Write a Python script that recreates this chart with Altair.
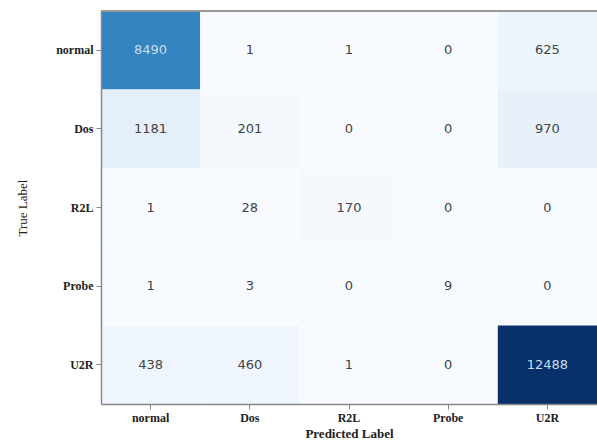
import altair as alt
import pandas as pd

labels = ["normal", "Dos", "R2L", "Probe", "U2R"]
matrix = [
    [8490, 1, 1, 0, 625],
    [1181, 201, 0, 0, 970],
    [1, 28, 170, 0, 0],
    [1, 3, 0, 9, 0],
    [438, 460, 1, 0, 12488],
]

rows = []
for i, t in enumerate(labels):
    for j, p in enumerate(labels):
        rows.append({"true": t, "pred": p, "value": matrix[i][j]})
df = pd.DataFrame(rows)
vmax = max(max(r) for r in matrix)

blues = ["#f7fbff", "#deebf7", "#c6dbef", "#9ecae1", "#6baed6",
         "#4292c6", "#2171b5", "#08519c", "#08306b"]

W, H = 496, 393

x = alt.X("pred:N", sort=labels, title="Predicted Label",
          axis=alt.Axis(labelAngle=0, labelFont="Liberation Serif", labelFontWeight="bold",
                        labelFontSize=12, labelColor="#222", titleFont="Liberation Serif",
                        titleFontWeight="bold", titleFontSize=13, titleColor="#222",
                        titlePadding=4, labelPadding=3, tickSize=5, tickColor="#888",
                        domainColor="#888", domainWidth=1.5))
y = alt.Y("true:N", sort=labels, title="True Label",
          axis=alt.Axis(labelFont="Liberation Serif", labelFontWeight="bold",
                        labelFontSize=12, labelColor="#222", titleFont="Liberation Serif",
                        titleFontWeight="normal", titleFontSize=13, titleColor="#222",
                        titlePadding=26, labelPadding=3, tickSize=5, tickColor="#888",
                        domainColor="#888", domainWidth=1.5))

base = alt.Chart(df).encode(x=x, y=y)

rect = base.mark_rect().encode(
    color=alt.Color("value:Q", scale=alt.Scale(range=blues, domain=[0, vmax]), legend=None)
)

text = base.mark_text(font="DejaVu Sans", fontSize=13).encode(
    text="value:Q",
    color=alt.condition(alt.datum.value > vmax / 2, alt.value("#c9dcf0"), alt.value("#444"))
)

top_border = alt.Chart(df).mark_rule(color="#999", strokeWidth=1.5).encode(
    x=alt.value(0), x2=alt.value(W), y=alt.value(0)
)

chart = (rect + text + top_border).properties(
    width=W, height=H,
    autosize=alt.AutoSizeParams(type="none"),
    padding={"left": 101, "top": 11, "right": 0, "bottom": 37},
).configure_view(strokeWidth=0).configure_scale(bandPaddingInner=0, bandPaddingOuter=0)

chart.save("out.html", embed_options={"renderer": "svg", "actions": False})
